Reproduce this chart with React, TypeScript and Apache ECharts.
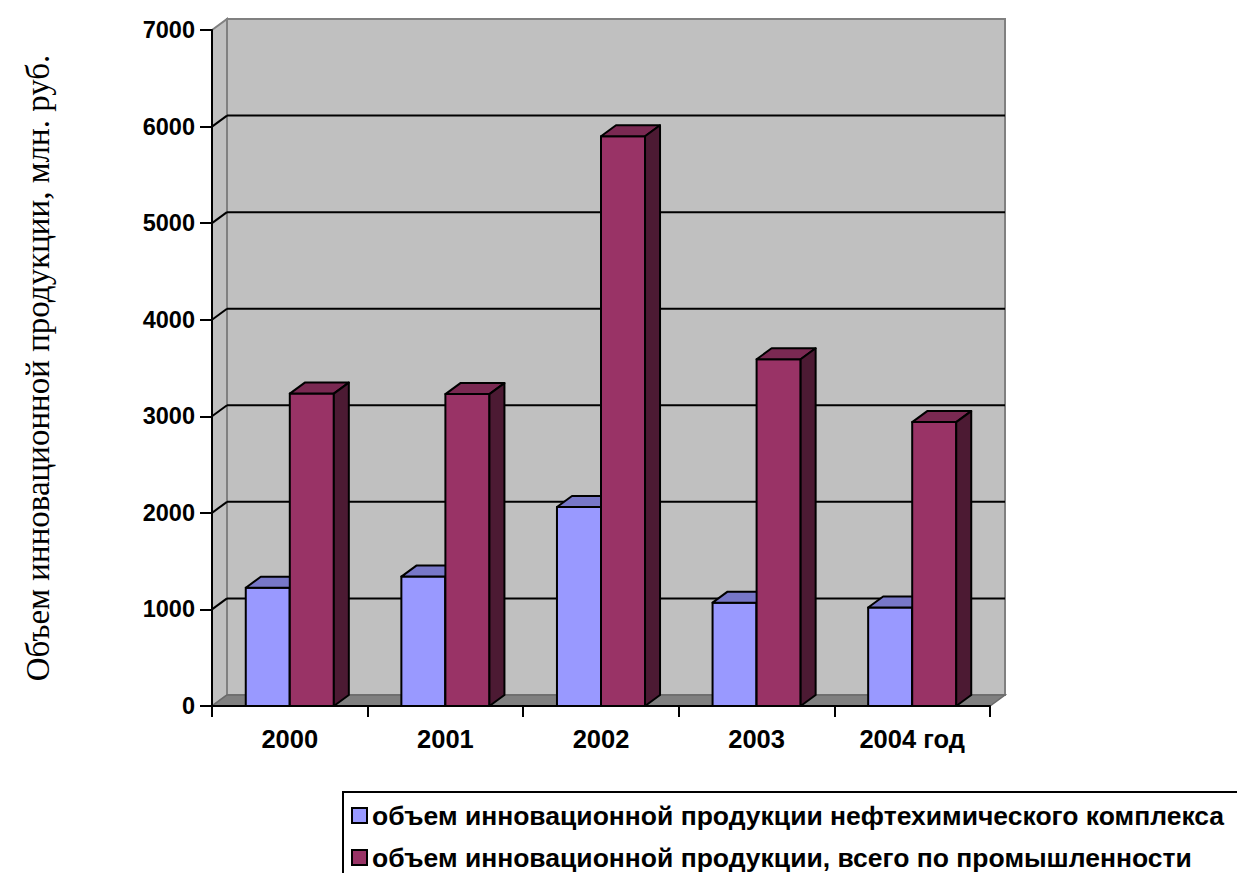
import React, { useEffect, useRef } from "react";
import * as echarts from "echarts";

const categories = ["2000", "2001", "2002", "2003", "2004 год"];
const petroValues = [1225, 1340, 2060, 1070, 1020];
const industryValues = [3235, 3230, 5900, 3590, 2940];
const yTicks = [0, 1000, 2000, 3000, 4000, 5000, 6000, 7000];
const seriesNames = [
  "объем инновационной продукции нефтехимического комплекса",
  "объем инновационной продукции, всего по промышленности",
];
const yTitle = "Объем инновационной продукции, млн. руб.";

const DX = 15;
const DY = -11;
const BAR_FRAC = 0.283;

const palettes = [
  { front: "#9999FF", top: "#7777C8", side: "#4D4D80" },
  { front: "#993366", top: "#7A2952", side: "#4C1A33" },
];

function makeBarRender(seriesIdx: number) {
  return (params: any, api: any) => {
    const ci = api.value(0);
    const v = api.value(1);
    const [cx, yTop] = api.coord([ci, v]);
    const yBase = api.coord([ci, 0])[1];
    const band = api.size([1, 0])[0];
    const w = band * BAR_FRAC;
    const x0 = seriesIdx === 0 ? cx - w : cx;
    const x1 = x0 + w;
    const p = palettes[seriesIdx];
    const stroke = { stroke: "#000", lineWidth: 2, lineJoin: "round" };
    return {
      type: "group",
      children: [
        {
          type: "polygon",
          shape: { points: [[x0, yTop], [x1, yTop], [x1, yBase], [x0, yBase]] },
          style: { fill: p.front, ...stroke },
        },
        {
          type: "polygon",
          shape: {
            points: [[x0, yTop], [x0 + DX, yTop + DY], [x1 + DX, yTop + DY], [x1, yTop]],
          },
          style: { fill: p.top, ...stroke },
        },
        {
          type: "polygon",
          shape: {
            points: [[x1, yTop], [x1 + DX, yTop + DY], [x1 + DX, yBase + DY], [x1, yBase]],
          },
          style: { fill: p.side, ...stroke },
        },
      ],
    };
  };
}

function wallRender(params: any, api: any) {
  const cs = params.coordSys;
  const x0 = cs.x;
  const x1 = cs.x + cs.width;
  const yT = cs.y;
  const yB = cs.y + cs.height;
  const children: any[] = [
    {
      type: "polygon",
      shape: { points: [[x0 + DX, yT + DY], [x1 + DX, yT + DY], [x1 + DX, yB + DY], [x0 + DX, yB + DY]] },
      style: { fill: "#C0C0C0", stroke: "#808080", lineWidth: 2 },
    },
    {
      type: "polygon",
      shape: { points: [[x0, yT], [x0 + DX, yT + DY], [x0 + DX, yB + DY], [x0, yB]] },
      style: { fill: "#C0C0C0", stroke: "#808080", lineWidth: 2 },
    },
    {
      type: "polygon",
      shape: { points: [[x0, yB], [x0 + DX, yB + DY], [x1 + DX, yB + DY], [x1, yB]] },
      style: { fill: "#808080", stroke: "#6A6A6A", lineWidth: 1.5 },
    },
  ];
  const maxV = yTicks[yTicks.length - 1];
  yTicks.forEach((v) => {
    if (v === 0 || v === maxV) return;
    const y = api.coord([0, v])[1];
    children.push({
      type: "line",
      shape: { x1: x0 + DX, y1: y + DY, x2: x1 + DX, y2: y + DY },
      style: { stroke: "#000", lineWidth: 2 },
    });
    children.push({
      type: "line",
      shape: { x1: x0, y1: y, x2: x0 + DX, y2: y + DY },
      style: { stroke: "#000", lineWidth: 2 },
    });
  });
  return { type: "group", children };
}

export default function App() {
  const ref = useRef<HTMLDivElement>(null);
  useEffect(() => {
    if (!ref.current) return;
    const chart = echarts.init(ref.current, undefined, { renderer: "svg" });
    const boldFont = {
      fontFamily: "Liberation Sans",
      fontWeight: "bold" as const,
      fontSize: 23,
      color: "#000",
    };
    chart.setOption({
      animation: false,
      backgroundColor: "#fff",
      grid: { left: 212, right: 247, top: 30, bottom: 167 },
      graphic: [
        {
          type: "rect",
          silent: true,
          shape: { x: 343, y: 792, width: 1000, height: 200 },
          style: { fill: "none", stroke: "#000", lineWidth: 2 },
        },
      ],
      legend: {
        orient: "vertical",
        left: 341,
        top: 792,
        height: 75,
        padding: [10, 10, 0, 10],
        itemWidth: 15,
        itemHeight: 15,
        itemGap: 15,
        selectedMode: false,
        textStyle: { ...boldFont, fontSize: 26.5, lineHeight: 24 },
        data: seriesNames.map((n, i) => ({
          name: n,
          icon: "rect",
          itemStyle: { color: palettes[i].front, borderColor: "#000", borderWidth: 2 },
        })),
      },
      xAxis: {
        type: "category",
        data: categories,
        z: 5,
        axisLine: { lineStyle: { color: "#000", width: 2 } },
        axisTick: { show: true, length: 11, lineStyle: { color: "#000", width: 2 } },
        axisLabel: { ...boldFont, fontSize: 25.5, margin: 20 },
        splitLine: { show: false },
      },
      yAxis: {
        type: "value",
        min: 0,
        max: 7000,
        interval: 1000,
        z: 5,
        name: yTitle,
        nameLocation: "middle",
        nameRotate: 90,
        nameGap: 158,
        nameTextStyle: { fontFamily: "Liberation Serif", fontSize: 33, color: "#000" },
        axisLine: { show: true, lineStyle: { color: "#000", width: 2 } },
        axisTick: { show: true, length: 12, lineStyle: { color: "#000", width: 2 } },
        axisLabel: { ...boldFont, fontSize: 23.5, margin: 17, formatter: (v: number) => String(v) },
        splitLine: { show: false },
      },
      series: [
        {
          type: "custom",
          name: "walls",
          z: 1,
          clip: false,
          silent: true,
          renderItem: wallRender,
          data: [[0, 0]],
          encode: { x: 0, y: 1 },
        },
        {
          type: "custom",
          name: seriesNames[0],
          z: 2,
          clip: false,
          itemStyle: { color: palettes[0].front },
          renderItem: makeBarRender(0),
          data: petroValues.map((v, i) => [i, v]),
          encode: { x: 0, y: 1 },
        },
        {
          type: "custom",
          name: seriesNames[1],
          z: 3,
          clip: false,
          itemStyle: { color: palettes[1].front },
          renderItem: makeBarRender(1),
          data: industryValues.map((v, i) => [i, v]),
          encode: { x: 0, y: 1 },
        },
      ],
    });
    return () => chart.dispose();
  }, []);
  return (
    <div
      ref={ref}
      style={{ position: "absolute", left: 0, top: 0, width: 1237, height: 873 }}
    />
  );
}
